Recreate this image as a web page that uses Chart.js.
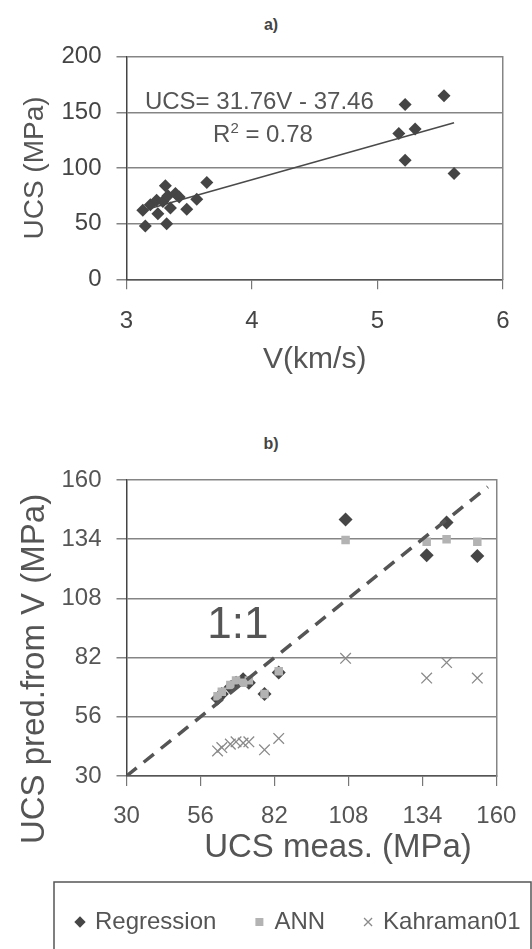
<!DOCTYPE html>
<html><head><meta charset="utf-8">
<script src="https://cdn.jsdelivr.net/npm/chart.js@4"></script>
<style>
html,body{margin:0;padding:0;background:#fff;}
#wrap{position:relative;width:532px;height:949px;overflow:hidden;background:#fff;}
canvas{position:absolute;left:0;}
.lbl{position:absolute;font:bold 16px "Liberation Sans",Arial,sans-serif;color:#444;transform:translate(-50%,-50%);}
</style></head><body>
<div id="wrap">
<div class="lbl" style="left:271px;top:25px">a)</div>
<canvas id="c1" width="532" height="380" style="top:0"></canvas>
<div class="lbl" style="left:271px;top:444px">b)</div>
<canvas id="c2" width="532" height="569" style="top:380px"></canvas>
</div>
<script>
const FONT = '"Liberation Sans", Arial, sans-serif';

// ---- chart a) data ----
const velocity = [3.13, 3.15, 3.19, 3.24, 3.25, 3.29, 3.31, 3.32, 3.33, 3.35, 3.39, 3.42, 3.48, 3.56, 3.64, 5.17, 5.22, 5.22, 5.30, 5.53, 5.61];
const ucs      = [62,   48,   67,   71,   59,   70,   84,   50,   75,   64,   77,   74,   63,   72,   87,   131,  157,  107,  135,  165,  95];
const trendVelocity = [3.13, 5.61];
const trendUcs      = [61.9, 140.7];
const xTicksA = [3, 4, 5, 6];
const yTicksA = [0, 50, 100, 150, 200];

// ---- chart b) data ----
const measured   = [62, 63.5, 66.5, 68.5, 71, 73, 78.5, 83.5, 107, 135.5, 142.5, 153.3];
const regression = [64, 66, 69, 71, 72.5, 71, 66, 75.5, 142.7, 127, 141.3, 126.6];
const ann        = [65, 67, 70, 72, 71, 72, 66, 76, 133.6, 132.9, 134, 132.9];
const kahraman   = [41, 42.5, 44, 45, 44.5, 45, 41.5, 46.5, 81.7, 73, 79.8, 73];
const oneToOne   = [30, 157];
const ticksB     = [30, 56, 82, 108, 134, 160];

const pts = (xs, ys) => xs.map((x, i) => ({x: x, y: ys[i]}));
const fixTicks = arr => (s => { s.ticks = arr.map(v => ({value: v})); });

const textPlugin = {
  id: 'texts',
  afterDraw(chart, args, opts) {
    const ctx = chart.ctx;
    (opts.items || []).forEach(it => {
      ctx.save();
      let x, y;
      if (it.data) { x = chart.scales.x.getPixelForValue(it.data[0]); y = chart.scales.y.getPixelForValue(it.data[1]); }
      else { x = it.px[0]; y = it.px[1]; }
      ctx.translate(x, y);
      if (it.rotate) ctx.rotate(it.rotate);
      ctx.fillStyle = it.color || '#555';
      ctx.textBaseline = it.baseline || 'alphabetic';
      if (it.parts) {
        ctx.textAlign = 'left';
        let cx = 0;
        it.parts.forEach(p => {
          ctx.font = p.font;
          ctx.fillText(p.t, cx, p.dy || 0);
          cx += ctx.measureText(p.t).width;
        });
      } else {
        ctx.font = it.font;
        ctx.textAlign = it.align || 'left';
        ctx.fillText(it.text, 0, 0);
      }
      ctx.restore();
    });
    if (opts.frame) {
      const f = opts.frame, L = chart.legend;
      const top = L.top + f.topOffset;
      ctx.save();
      ctx.strokeStyle = f.color; ctx.lineWidth = f.width;
      ctx.beginPath();
      ctx.moveTo(f.left, chart.height + 5);
      ctx.lineTo(f.left, top);
      ctx.lineTo(f.right, top);
      ctx.lineTo(f.right, chart.height + 5);
      ctx.stroke();
      ctx.restore();
    }
  }
};

const gridGray = '#858585';

new Chart(document.getElementById('c1'), {
  type: 'scatter',
  data: {
    datasets: [
      {label: 'UCS', data: pts(velocity, ucs), pointStyle: 'rectRot', pointRadius: 6.5,
       backgroundColor: '#454545', borderColor: '#454545', borderWidth: 0, order: 1},
      {type: 'line', label: 'Linear fit', data: pts(trendVelocity, trendUcs), showLine: true,
       pointRadius: 0, borderColor: '#4a4a4a', borderWidth: 1.6, fill: false, order: 2}
    ]
  },
  options: {
    responsive: false, animation: false, devicePixelRatio: 1,
    layout: {padding: {top: 56.7, left: 0, right: 0, bottom: 0}},
    plugins: {
      legend: {display: false}, tooltip: {enabled: false},
      texts: {items: [
        {data: [3.147, 153.2], text: 'UCS= 31.76V - 37.46', font: '24px ' + FONT, color: '#555'},
        {data: [3.69, 123.3], parts: [
          {t: 'R', font: '24px ' + FONT},
          {t: '2', font: '15px ' + FONT, dy: -9},
          {t: ' = 0.78', font: '24px ' + FONT}], color: '#555'}
      ]}
    },
    scales: {
      x: {type: 'linear', min: xTicksA[0], max: xTicksA[xTicksA.length - 1],
        afterBuildTicks: fixTicks(xTicksA),
        ticks: {color: '#444', font: {size: 24, family: FONT}, padding: 18},
        grid: {drawOnChartArea: false, drawTicks: true, tickLength: 10, color: '#777', lineWidth: 1.2},
        border: {color: '#555', width: 1.5},
        title: {display: true, text: 'V(km/s)', color: '#555', font: {size: 30, family: FONT}, padding: {top: 0, bottom: 2}},
        afterFit: s => { s.height = 100.7; }
      },
      y: {type: 'linear', min: yTicksA[0], max: yTicksA[yTicksA.length - 1],
        afterBuildTicks: fixTicks(yTicksA),
        ticks: {color: '#444', font: {size: 24, family: FONT}, padding: 15},
        grid: {color: gridGray, lineWidth: 1.5, tickLength: 10},
        border: {color: '#444', width: 1.5},
        title: {display: true, text: 'UCS (MPa)', color: '#555', font: {size: 28, family: FONT}, padding: {top: 18, bottom: 0}},
        afterFit: s => { s.width = 126.5; }
      },
      yRight: {type: 'linear', position: 'right', min: 0, max: 200,
        ticks: {display: false}, grid: {drawOnChartArea: false, drawTicks: false},
        border: {display: true, color: gridGray, width: 1.5},
        afterFit: s => { s.width = 29; }
      }
    }
  },
  plugins: [textPlugin]
});

new Chart(document.getElementById('c2'), {
  type: 'scatter',
  data: {
    datasets: [
      {label: 'Regression', data: pts(measured, regression), pointStyle: 'rectRot', pointRadius: 7,
       backgroundColor: '#464646', borderColor: '#464646', borderWidth: 0, order: 2},
      {label: 'ANN', data: pts(measured, ann), pointStyle: 'rect', pointRadius: 6,
       backgroundColor: '#b3b3b3', borderColor: '#b3b3b3', borderWidth: 0, order: 1},
      {label: 'Kahraman01', data: pts(measured, kahraman), pointStyle: 'crossRot', pointRadius: 7.5,
       backgroundColor: '#8a8a8a', borderColor: '#8a8a8a', borderWidth: 1.3, order: 3},
      {type: 'line', label: '1:1', data: pts(oneToOne, oneToOne), showLine: true, pointRadius: 0,
       borderColor: '#555', borderWidth: 3.5, borderDash: [13, 9], fill: false, order: 0}
    ]
  },
  options: {
    responsive: false, animation: false, devicePixelRatio: 1,
    layout: {padding: {top: 100, left: 37, right: -70, bottom: 5}},
    plugins: {
      tooltip: {enabled: false},
      legend: {display: true, position: 'bottom', align: 'start',
        labels: {
          filter: item => item.text !== '1:1',
          sort: (a, b) => a.datasetIndex - b.datasetIndex,
          usePointStyle: true, boxWidth: 6, boxHeight: 8, padding: 40,
          color: '#555', font: {size: 24, family: FONT}
        }
      },
      texts: {
        items: [
          {data: [58.4, 90.5], text: '1:1', font: '44px ' + FONT, color: '#555'},
          {px: [338, 468], text: 'UCS meas. (MPa)', font: '33px ' + FONT, color: '#555', align: 'center', baseline: 'middle'},
          {px: [35, 289], text: 'UCS pred.from V (MPa)', font: '33px ' + FONT, color: '#555', align: 'center', baseline: 'middle', rotate: -Math.PI / 2}
        ],
        frame: {left: 54, right: 531, topOffset: 12, color: '#555', width: 1.5}
      }
    },
    scales: {
      x: {type: 'linear', min: ticksB[0], max: ticksB[ticksB.length - 1],
        afterBuildTicks: fixTicks(ticksB),
        ticks: {color: '#555', font: {size: 24, family: FONT}, padding: 15.6},
        grid: {drawOnChartArea: false, drawTicks: true, tickLength: 10, color: '#777', lineWidth: 1.2},
        border: {color: '#555', width: 1.5},
        afterFit: s => { s.height = 94; }
      },
      y: {type: 'linear', min: ticksB[0], max: ticksB[ticksB.length - 1],
        afterBuildTicks: fixTicks(ticksB),
        ticks: {color: '#555', font: {size: 24, family: FONT}, padding: 15},
        grid: {color: gridGray, lineWidth: 1.5, tickLength: 10},
        border: {color: '#444', width: 1.5},
        afterFit: s => { s.width = 89.5; }
      },
      yRight: {type: 'linear', position: 'right', min: 30, max: 160,
        ticks: {display: false}, grid: {drawOnChartArea: false, drawTicks: false},
        border: {display: true, color: gridGray, width: 1.5},
        afterFit: s => { s.width = 99.5; }
      }
    }
  },
  plugins: [textPlugin]
});
</script>
</body></html>
